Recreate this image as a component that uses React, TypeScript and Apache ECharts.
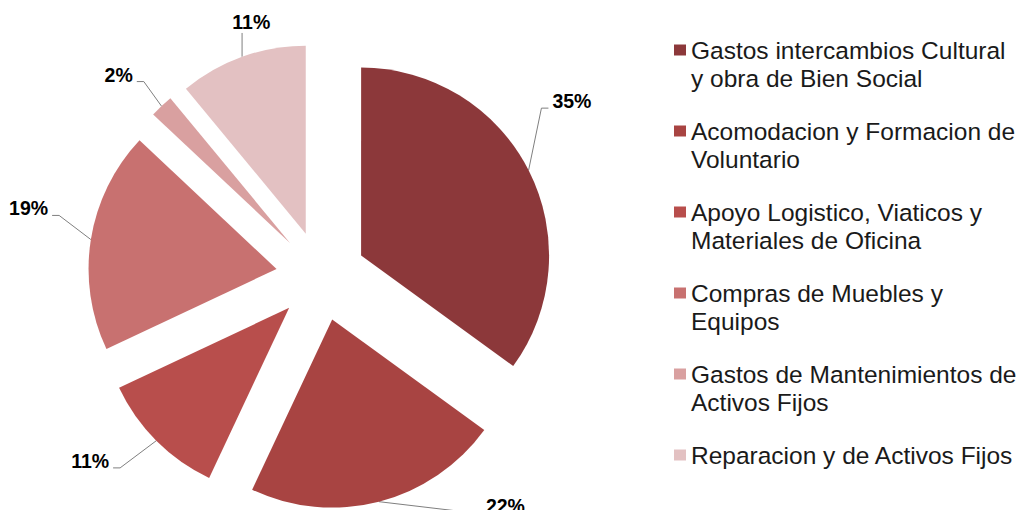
import React, { useEffect, useRef } from "react";
import * as echarts from "echarts";

const categories = [
  "Gastos intercambios Cultural\ny obra de Bien Social",
  "Acomodacion y Formacion de\nVoluntario",
  "Apoyo Logistico, Viaticos y\nMateriales de Oficina",
  "Compras de Muebles y\nEquipos",
  "Gastos de Mantenimientos de\nActivos Fijos",
  "Reparacion y de Activos Fijos",
];
const values = [35, 22, 11, 19, 2, 11];
const colors = ["#8C383A", "#A84442", "#B84E4C", "#C87170", "#D9A0A0", "#E3C1C2"];

// label nudges relative to ECharts' default outside-label placement
const labelDx = [-7, 89, -20, -10, -2, 48];
const labelDy = [-60, -15, 6, -28, -17, -16];
// how the leader line meets the label: side (short horizontal tail) or below (vertical)
const labelLineMode = ["side", "side", "side", "side", "side", "below"];

export default function App() {
  const ref = useRef<HTMLDivElement>(null);
  useEffect(() => {
    if (!ref.current) return;
    const chart = echarts.init(ref.current, undefined, { renderer: "svg" });
    const font = "Liberation Sans, Arial, sans-serif";
    chart.setOption({
      animation: false,
      backgroundColor: "#ffffff",
      legend: {
        orient: "vertical",
        left: 674,
        top: 8,
        padding: 0,
        itemGap: -3,
        itemWidth: 12,
        itemHeight: 11,
        icon: "rect",
        selectedMode: false,
        formatter: (name: string) => (name.includes("\n") ? "\n" + name : name),
        textStyle: {
          fontFamily: font,
          fontSize: 24.5,
          lineHeight: 28,
          color: "#1a1a1a",
        },
        data: categories.map((name) => ({
          name,
          textStyle: name.includes("\n") ? {} : { padding: [28, 0, 28, 0] },
        })),
      },
      series: [
        {
          type: "pie",
          center: [321, 276],
          radius: 188,
          startAngle: 90,
          clockwise: true,
          selectedMode: "multiple",
          selectedOffset: 45,
          avoidLabelOverlap: false,
          emphasis: { disabled: true },
          label: {
            show: true,
            position: "outside",
            formatter: "{d}%",
            fontFamily: font,
            fontWeight: "bold",
            fontSize: 19.5,
            color: "#000000",
          },
          labelLine: {
            show: true,
            length: 20,
            length2: 8,
            lineStyle: { color: "#7f7f7f", width: 1 },
          },
          labelLayout: (p: any) => {
            const i = p.dataIndex;
            const dx = labelDx[i];
            const dy = labelDy[i];
            const r = p.labelRect;
            const start = p.labelLinePoints ? p.labelLinePoints[0] : [r.x, r.y];
            const x0 = r.x + dx;
            const y0 = r.y + dy;
            const cx = x0 + r.width / 2;
            const cy = y0 + r.height / 2;
            let pts;
            if (labelLineMode[i] === "below") {
              const bottom = y0 + r.height + 1;
              pts = [start, [start[0], bottom], [start[0], bottom]];
            } else {
              const right = cx > start[0] ? false : true;
              const ly = cy + 7;
              const endX = right ? x0 + r.width + 4 : x0 - 4;
              const bendX = right ? endX + 7 : endX - 7;
              pts = [start, [bendX, ly], [endX, ly]];
            }
            return { dx, dy, labelLinePoints: pts };
          },
          data: categories.map((name, i) => ({
            name,
            value: values[i],
            selected: true,
            itemStyle: { color: colors[i] },
            select: { itemStyle: { color: colors[i] } },
          })),
        },
      ],
    });
    return () => chart.dispose();
  }, []);
  return (
    <div
      ref={ref}
      style={{ position: "fixed", left: 0, top: 0, width: 1024, height: 510 }}
    />
  );
}
